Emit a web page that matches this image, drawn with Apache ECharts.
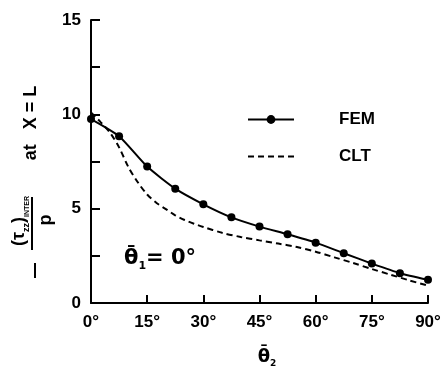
<!DOCTYPE html>
<html>
<head>
<meta charset="utf-8">
<script src="https://cdn.jsdelivr.net/npm/echarts@6/dist/echarts.min.js"></script>
<style>
  html, body { margin: 0; padding: 0; background: #fff; }
  #chart { width: 446px; height: 370px; }
</style>
</head>
<body>
<div id="chart"></div>
<script>
// angles of the second ply (deg)
const femAngles = [0, 7.5, 15, 22.5, 30, 37.5, 45, 52.5, 60, 67.5, 75, 82.5, 90]
const femValues = [9.75, 8.84, 7.23, 6.06, 5.23, 4.54, 4.05, 3.64, 3.2, 2.64, 2.09, 1.58, 1.23]

const cltAngles = [0, 2.5, 5, 7.5, 10, 12.5, 15, 17.5, 20, 22.5, 25, 27.5, 30, 35, 40, 45, 50, 55, 60, 65, 70, 75, 80, 85, 90]
const cltValues = [10.1, 9.6, 9.05, 8.25, 7.2, 6.4, 5.75, 5.3, 4.98, 4.65, 4.4, 4.2, 4.03, 3.72, 3.5, 3.32, 3.15, 2.97, 2.72, 2.42, 2.12, 1.8, 1.5, 1.2, 0.92]

const xTicks = [0, 15, 30, 45, 60, 75, 90]
const yLabels = [0, 5, 10, 15]

const FONT = 'Liberation Sans, Arial, sans-serif'
const GREEK = 'DejaVu Sans, sans-serif'

const chart = echarts.init(document.getElementById('chart'))

chart.setOption({
  animation: false,
  backgroundColor: '#fff',
  grid: { left: 91, right: 18, top: 20, bottom: 67 },
  xAxis: {
    type: 'value',
    min: xTicks[0],
    max: xTicks[xTicks.length - 1],
    interval: 15,
    axisLine: { lineStyle: { color: '#000', width: 2 } },
    axisTick: { inside: true, length: 8, lineStyle: { color: '#000', width: 2 } },
    axisLabel: {
      margin: 11,
      color: '#000',
      fontFamily: FONT,
      fontWeight: 'bold',
      fontSize: 17,
      formatter: v => v + '°'
    },
    splitLine: { show: false }
  },
  yAxis: {
    type: 'value',
    min: 0,
    max: 15,
    interval: 2.5,
    axisLine: { show: true, lineStyle: { color: '#000', width: 2 } },
    axisTick: { show: true, inside: true, length: 9, lineStyle: { color: '#000', width: 2 } },
    axisLabel: {
      margin: 10,
      color: '#000',
      fontFamily: FONT,
      fontWeight: 'bold',
      fontSize: 17,
      formatter: v => (yLabels.includes(v) ? String(v) : '')
    },
    splitLine: { show: false }
  },
  legend: {
    orient: 'vertical',
    left: 242,
    top: 106,
    itemWidth: 46,
    itemHeight: 11,
    itemGap: 20,
    textStyle: {
      color: '#000',
      fontFamily: FONT,
      fontWeight: 'bold',
      fontSize: 17,
      padding: [0, 0, 0, 40]
    },
    data: [
      { name: 'FEM' },
      { name: 'CLT', itemStyle: { color: 'rgba(0,0,0,0)', borderWidth: 0 } }
    ]
  },
  series: [
    {
      name: 'FEM',
      type: 'line',
      data: femAngles.map((a, i) => [a, femValues[i]]),
      smooth: 0.2,
      symbol: 'circle',
      symbolSize: 8,
      itemStyle: { color: '#000' },
      lineStyle: { color: '#000', width: 2 },
      z: 3
    },
    {
      name: 'CLT',
      type: 'line',
      data: cltAngles.map((a, i) => [a, cltValues[i]]),
      smooth: 0.3,
      symbol: 'none',
      itemStyle: { color: '#000' },
      lineStyle: { color: '#000', width: 2, type: [6, 4] },
      z: 2
    }
  ],
  graphic: [
    // y axis title: - (tau_zz)_INTER / p  at X = L
    {
      type: 'line',
      shape: { x1: 35, y1: 263, x2: 35, y2: 278 },
      style: { stroke: '#000', lineWidth: 2 }
    },
    {
      type: 'line',
      shape: { x1: 32, y1: 197, x2: 32, y2: 250 },
      style: { stroke: '#000', lineWidth: 2 }
    },
    {
      type: 'text',
      x: 19, y: 221,
      rotation: Math.PI / 2,
      style: {
        text: '(τ{s|zz}){t|INTER}',
        font: 'bold 18px ' + FONT,
        fill: '#000',
        align: 'center',
        verticalAlign: 'middle',
        rich: {
          s: { fontSize: 9, fontWeight: 'bold', fontFamily: FONT, verticalAlign: 'bottom', lineHeight: 20 },
          t: { fontSize: 7, fontWeight: 'bold', fontFamily: FONT, verticalAlign: 'bottom', lineHeight: 24 }
        }
      }
    },
    {
      type: 'text',
      x: 46, y: 220,
      rotation: Math.PI / 2,
      style: {
        text: 'p',
        font: 'bold 18px ' + FONT,
        fill: '#000',
        align: 'center',
        verticalAlign: 'middle'
      }
    },
    {
      type: 'text',
      x: 31, y: 123,
      rotation: Math.PI / 2,
      style: {
        text: 'at   X = L',
        font: 'bold 18px ' + FONT,
        fill: '#000',
        align: 'center',
        verticalAlign: 'middle'
      }
    },
    // annotation
    {
      type: 'text',
      x: 160, y: 259,
      style: {
        text: 'θ̄{s|1}= 0°',
        font: 'bold 21px ' + GREEK,
        fill: '#000',
        align: 'center',
        verticalAlign: 'middle',
        rich: {
          s: { fontSize: 11, fontWeight: 'bold', fontFamily: GREEK, verticalAlign: 'bottom', lineHeight: 26 }
        }
      }
    },
    // x axis title
    {
      type: 'text',
      x: 267, y: 357,
      style: {
        text: 'θ̄{s|2}',
        font: 'bold 18px ' + GREEK,
        fill: '#000',
        align: 'center',
        verticalAlign: 'middle',
        rich: {
          s: { fontSize: 9, fontWeight: 'bold', fontFamily: GREEK, verticalAlign: 'bottom', lineHeight: 22 }
        }
      }
    }
  ]
})
</script>
</body>
</html>
